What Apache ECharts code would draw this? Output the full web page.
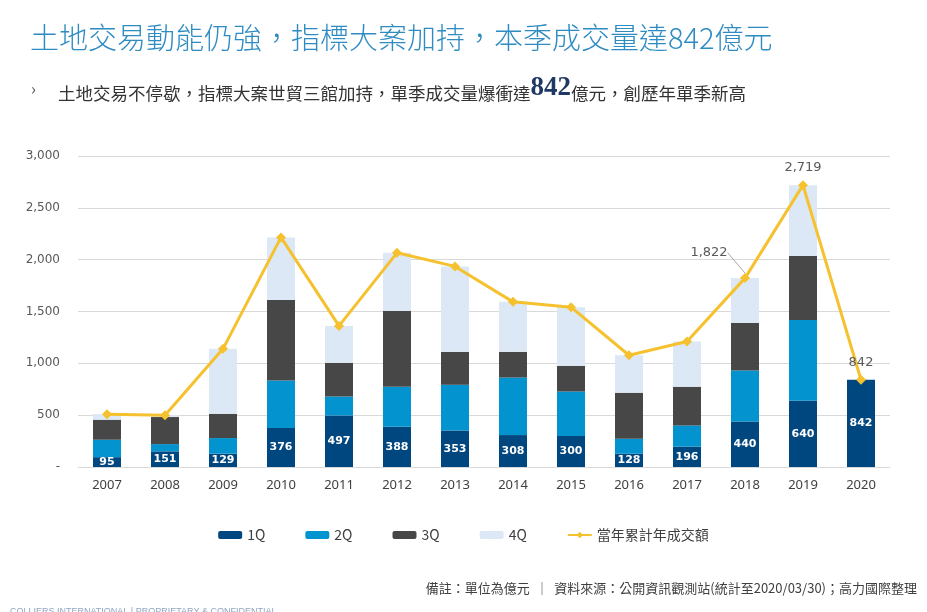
<!DOCTYPE html>
<html>
<head>
<meta charset="utf-8">
<script src="https://cdn.jsdelivr.net/npm/echarts@6/dist/echarts.min.js"></script>
<style>
html,body{margin:0;padding:0;background:#fff;}
#chart{width:927px;height:612px;}
</style>
</head>
<body>
<div id="chart"></div>
<script>
const years = ['2007','2008','2009','2010','2011','2012','2013','2014','2015','2016','2017','2018','2019','2020'];
const q1 = [95,151,129,376,497,388,353,308,300,128,196,440,640,842];
const q2 = [168,70,150,458,183,386,440,555,428,145,205,491,779,0];
const q3 = [193,261,234,778,325,732,318,248,248,443,373,459,617,0];
const q4 = [54,18,627,603,356,560,824,482,566,362,436,432,683,0];
const totals = [510,500,1140,2215,1361,2066,1935,1593,1542,1078,1210,1822,2719,842];
const labeledTotals = ['2018','2019','2020'];
const seriesNames = ['1Q','2Q','3Q','4Q','當年累計年成交額'];
const yTicks = [0,500,1000,1500,2000,2500,3000];

const titleText = '土地交易動能仍強，指標大案加持，本季成交量達842億元';
const subA = '土地交易不停歇，指標大案世貿三館加持，單季成交量爆衝達';
const subNum = '842';
const subB = '億元，創歷年單季新高';
const footText = '備註：單位為億元  │  資料來源：公開資訊觀測站(統計至2020/03/30)；高力國際整理';

const CJK = '"Noto Sans CJK TC","Noto Sans",sans-serif';
const colors = ['#00467F','#0393CF','#474747','#DCE8F5','#F6C12E'];

const chart = echarts.init(document.getElementById('chart'), null, {renderer:'canvas'});

function barSeries(name, data, idx) {
  const s = {
    name: name, type: 'bar', stack: 'q', data: data, barWidth: 28,
    itemStyle: {color: colors[idx]},
    emphasis: {disabled: true}
  };
  if (idx === 0) {
    s.label = {
      show: true, position: 'inside', color: '#fff',
      fontFamily: '"DejaVu Sans",sans-serif', fontWeight: 'bold', fontSize: 11
    };
  }
  return s;
}

const lineData = totals.map((v, i) => {
  const show = labeledTotals.indexOf(years[i]) >= 0;
  const d = {value: v};
  if (show) {
    d.label = {show: true};
    if (years[i] === '2019') d.label.offset = [-16, -2];
    if (years[i] === '2018') d.labelLine = {show: true, lineStyle: {color: '#A6A6A6', width: 1}};
  }
  return d;
});

const option = {
  animation: false,
  color: colors,
  graphic: [
    {type:'text', left: 30, top: 23, style: {text: titleText, fill: '#2F8CC2', font: '300 29px ' + CJK}},
    {type:'text', left: 31, top: 81, style: {text: '›', fill: '#555', font: '16px ' + CJK}},
    {type:'text', left: 58, top: 75, style: {
      text: '{a|' + subA + '}{b|' + subNum + '}{a|' + subB + '}',
      rich: {
        a: {fontFamily: CJK, fontSize: 17.5, fill: '#333', color:'#333', verticalAlign: 'bottom'},
        b: {fontFamily: '"Liberation Serif",serif', fontWeight: 'bold', fontSize: 27, fill: '#1F3864', color:'#1F3864', verticalAlign: 'bottom'}
      }
    }},
    {type:'text', right: 10, top: 582, style: {text: footText, fill: '#404040', font: '13px ' + CJK}},
    {type:'text', left: 10, top: 607, style: {text: 'COLLIERS INTERNATIONAL | PROPRIETARY & CONFIDENTIAL', fill: '#8EA6C2', font: '9px "Liberation Sans",sans-serif'}}
  ],
  grid: {left: 78, right: 37, top: 156, bottom: 145, containLabel: false},
  legend: {
    data: seriesNames,
    top: 523, left: 'center',
    itemWidth: 24, itemHeight: 8, itemGap: 40,
    textStyle: {color: '#404040', fontSize: 14, fontFamily: CJK},
    selectedMode: false
  },
  xAxis: {
    type: 'category', data: years,
    axisLine: {show: true, lineStyle: {color: '#D9D9D9'}},
    axisTick: {show: false},
    axisLabel: {color: '#404040', fontSize: 13, fontFamily: '"Noto Sans",sans-serif', margin: 12}
  },
  yAxis: {
    type: 'value', min: yTicks[0], max: yTicks[yTicks.length-1], interval: 500,
    axisLine: {show: false}, axisTick: {show: false},
    splitLine: {lineStyle: {color: '#D9D9D9', width: 1}},
    axisLabel: {
      color: '#595959', fontSize: 12, fontFamily: '"DejaVu Sans",sans-serif', margin: 18,
      formatter: v => v === 0 ? '-' : v.toLocaleString('en-US')
    }
  },
  series: [
    barSeries(seriesNames[0], q1, 0),
    barSeries(seriesNames[1], q2, 1),
    barSeries(seriesNames[2], q3, 2),
    barSeries(seriesNames[3], q4, 3),
    {
      name: seriesNames[4], type: 'line', data: lineData,
      symbol: 'diamond', symbolSize: 10, z: 5,
      lineStyle: {color: colors[4], width: 3},
      itemStyle: {color: colors[4]},
      emphasis: {disabled: true},
      label: {
        show: false, position: 'top', distance: 6, color: '#595959',
        fontSize: 13, fontFamily: '"DejaVu Sans",sans-serif',
        formatter: p => p.value.toLocaleString('en-US')
      },
      labelLayout: function (p) {
        if (p.dataIndex === 11) return {dx: -36, dy: -8};
        return {};
      },
      labelLine: {show: false}
    }
  ]
};
chart.setOption(option);
</script>
</body>
</html>
